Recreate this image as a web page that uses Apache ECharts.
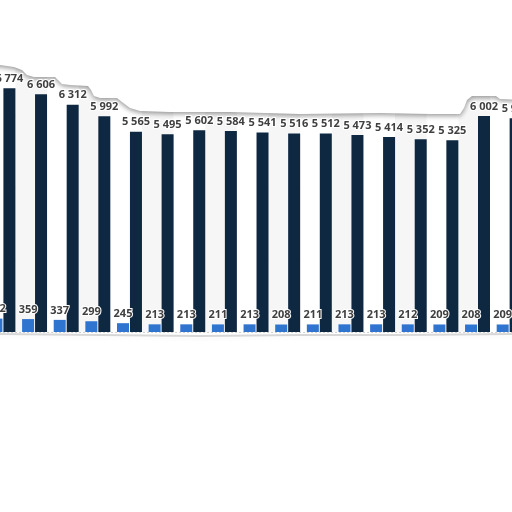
<!DOCTYPE html>
<html>
<head>
<meta charset="utf-8">
<script src="https://cdn.jsdelivr.net/npm/echarts@6/dist/echarts.min.js"></script>
<style>html,body{margin:0;padding:0;background:#fff}#c{width:512px;height:512px}</style>
</head>
<body>
<div id="c"></div>
<script>
// Data
const categories = ['C1','C2','C3','C4','C5','C6','C7','C8','C9','C10','C11','C12','C13','C14','C15','C16','C17'];
const blueValues = [372, 359, 337, 299, 245, 213, 213, 211, 213, 208, 211, 213, 213, 212, 209, 208, 209];
const darkValues = [6774, 6606, 6312, 5992, 5565, 5495, 5602, 5584, 5541, 5516, 5512, 5473, 5414, 5352, 5325, 6002, 5940];
const yTicks = [0, 2000, 4000, 6000, 8000];

const fmt = v => String(v).replace(/\B(?=(\d{3})+(?!\d))/g, ' ');
const chart = echarts.init(document.getElementById('c'));
const W = 31.64, L = -12.9;
const gridW = W * categories.length;
const labelStyle = {
  show: true, position: 'top', distance: 4,
  fontFamily: 'Open Sans', fontSize: 11, fontWeight: 'bold',
  color: '#404040', textBorderColor: '#fff', textBorderWidth: 2,
  formatter: p => fmt(p.value)
};
const L2 = L + 12.5 + W / 2 - W;
chart.setOption({
  animation: false,
  backgroundColor: '#fff',
  grid: [
    { left: L, width: gridW, top: 44, height: 288, outerBoundsMode: 'none', containLabel: false },
    { left: L2, width: gridW, top: 44, height: 288, outerBoundsMode: 'none', containLabel: false }
  ],
  xAxis: [
    { type: 'category', gridIndex: 0, data: categories, show: true,
      axisLine: { show: false }, axisTick: { show: false }, axisLabel: { show: false } },
    { type: 'category', gridIndex: 1, data: categories,
      axisLine: { show: false }, axisTick: { show: false }, axisLabel: { show: false },
      splitArea: { show: true, areaStyle: { color: ['#ffffff', '#f6f6f6'] } } }
  ],
  yAxis: [
    { type: 'value', gridIndex: 0, min: yTicks[0], max: yTicks[yTicks.length - 1], interval: 2000,
      axisLabel: { show: false }, axisLine: { show: false }, axisTick: { show: false },
      splitLine: { show: true, lineStyle: { color: '#cfcfcf', type: [2, 2], width: 1 } } },
    { type: 'value', gridIndex: 1, min: yTicks[0], max: yTicks[yTicks.length - 1], interval: 2000,
      show: false, splitLine: { show: false } }
  ],
  series: [
    { type: 'bar', name: 'blue', data: blueValues, barWidth: 12, barGap: '8%',
      itemStyle: { color: '#2f74cf' }, label: labelStyle, z: 3 },
    { type: 'bar', name: 'dark', data: darkValues, barWidth: 12, barGap: '8%',
      itemStyle: { color: '#0f2842' }, label: labelStyle, z: 2 }
  ],
  graphic: [
    { type: 'polygon', z: 1,
      shape: { points: [[-20,64],[0,65],[14,67],[22,70],[27,75],[34,77],[55,77],[58,80],[62,84],[70,85],[88,86],[91,90],[94,96],[100,98],[117,98],[122,102],[130,108],[140,111],[170,112],[230,112],[300,114],[380,113],[430,114],[460,114],[464,108],[467,100],[472,96],[496,96],[500,99],[532,100],[532,-20],[-20,-20]] },
      style: { fill: '#fff', shadowColor: 'rgba(0,0,0,0.4)', shadowBlur: 5, shadowOffsetY: 2 } },
    { type: 'polyline', z: 1,
      shape: { points: [[-10,334],[100,335],[200,336],[300,335],[400,335],[520,334]] },
      style: { stroke: 'rgba(0,0,0,0.15)', lineWidth: 2, shadowColor: 'rgba(0,0,0,0.3)', shadowBlur: 4, shadowOffsetY: 2 } }
  ]
});
</script>
</body>
</html>
